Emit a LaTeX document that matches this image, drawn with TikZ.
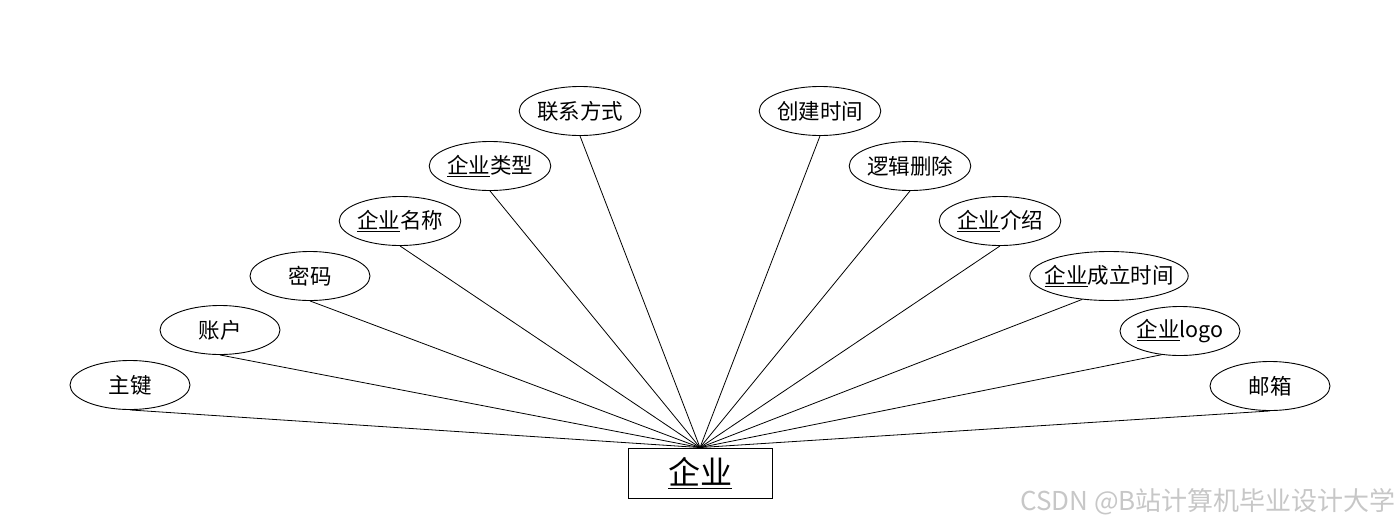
\documentclass[tikz,border=0pt]{standalone}
\usepackage{fontspec}
\setmainfont{Noto Sans CJK SC}
\usetikzlibrary{shapes.geometric}
\newcommand{\qy}{\underline{企业}}
\begin{document}
\begin{tikzpicture}[x=1pt,y=-1pt,
  attr/.style={draw,ellipse,line width=0.9pt,minimum width=120pt,minimum height=49pt,inner sep=0pt,font=\fontsize{21.5}{24}\selectfont},
  ent/.style={draw,rectangle,line width=0.9pt,minimum width=144pt,minimum height=50pt,inner sep=0pt,font=\fontsize{32}{34}\selectfont},
  link/.style={line width=0.8pt}]
\useasboundingbox (0,0) rectangle (1400,528);
\node[ent] (e) at (700,473) {\qy};
\node[attr] (a1) at (130,385) {主键};
\node[attr] (a2) at (220,330) {账户};
\node[attr] (a3) at (310,276) {密码};
\node[attr] (a4) at (400,221) {\qy 名称};
\node[attr] (a5) at (490,166) {\qy 类型};
\node[attr] (a6) at (580,111) {联系方式};
\node[attr] (b1) at (820,111) {创建时间};
\node[attr] (b2) at (910,166) {逻辑删除};
\node[attr] (b3) at (1000,221) {\qy 介绍};
\node[attr,minimum width=158pt,inner xsep=-8.5pt] (b4) at (1109,276) {\qy 成立时间};
\node[attr,inner xsep=-2.5pt] (b5) at (1180,331) {\qy logo};
\node[attr] (b6) at (1270,386) {邮箱};
\foreach \n in {a1,a2,a3,a4,a5,a6,b1,b2,b3,b6}
  \draw[link] (\n.south) -- (e.north);
\draw[link] (b4.221.6) -- (e.north);
\draw[link] (b5.232.4) -- (e.north);
\node[anchor=east,text=black!22,font=\fontsize{26}{28}\selectfont,inner sep=0pt] (wm) at (1396,502) {CSDN @B站计算机毕业设计大学};
\end{tikzpicture}
\end{document}
